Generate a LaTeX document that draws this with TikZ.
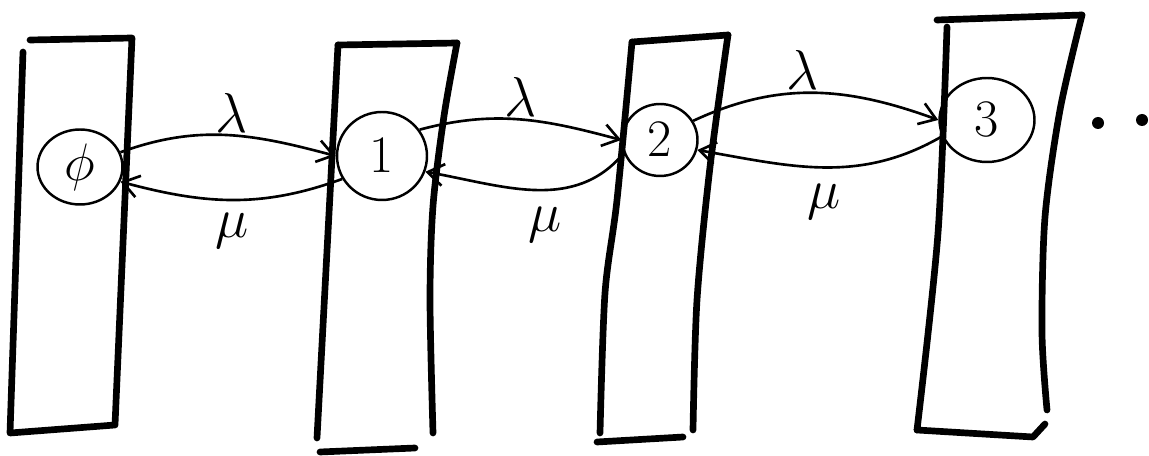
\RequirePackage{fix-cm}
\documentclass[tikz,border=0pt]{standalone}
\usepackage{amsmath,amssymb}
\usepackage{tikz}
\usetikzlibrary{arrows.meta,shapes.geometric}
\definecolor{INK}{HTML}{000000}

\begin{document}
\begin{tikzpicture}[x=0.02cm,y=0.02cm]
\tikzset{bar/.style={line width=3.8pt,INK,line cap=round,line join=round},
 st/.style={ellipse,draw=INK,line width=1.4pt,inner sep=0pt,font=\fontsize{30}{34}\selectfont},
 tr/.style={line width=1.5pt,INK,-{Straight Barb[length=3.2mm,width=4.4mm]}},
 rt/.style={font=\fontsize{32}{36}\selectfont,inner sep=1pt},
 dt/.style={circle,fill=INK,inner sep=0pt,minimum size=0.24cm}}
\useasboundingbox (0,0) rectangle (1149,456);
% bars
\draw[bar] (23,404) -- (10,23) -- (115,31) -- (132,418) -- (30,416);
\draw[bar] (338,411) -- (317,18);
\draw[bar] (338,411) -- (457,413);
\draw[bar] plot[smooth] coordinates {(457,413) (444,340) (433,250) (430,156) (433,23)};
\draw[bar] (320,4) -- (415,8);
\draw[bar] plot[smooth] coordinates {(632,414) (617,256) (605,163) (600,23)};
\draw[bar] (632,414) -- (728,421);
\draw[bar] plot[smooth] coordinates {(728,421) (710,289) (697,156) (693,26)};
\draw[bar] (597,14) -- (683,19);
\draw[bar] (937,436) -- (1082,441);
\draw[bar] plot[smooth] coordinates {(947,429) (938,223) (917,26)};
\draw[bar] (917,26) -- (1033,19) -- (1045,32);
\draw[bar] plot[smooth] coordinates {(1082,441) (1060,346) (1045,239) (1042,123) (1047,46)};
% states
\node[st,minimum width=1.7cm,minimum height=1.5cm] (s0) at (80,289) {$\phi$};
\node[st,minimum width=1.8cm,minimum height=1.76cm] (s1) at (382,300) {$1$};
\node[st,minimum width=1.5cm,minimum height=1.44cm] (s2) at (660,316) {$2$};
\node[st,minimum width=1.9cm,minimum height=1.68cm] (s3) at (987,336) {$3$};
\node[dt] (d1) at (1098,333) {};
\node[dt] (d2) at (1142,336) {};
% rates
\draw[tr] (s0.20) to[out=20,in=165] node[rt,above,pos=.52] (l01) {$\lambda$} (s1.west);
\draw[tr] (s1.210) to[out=200,in=-15] node[rt,below=6pt,pos=.5] (m10) {$\mu$} (s0.-20);
\draw[tr] (s1.35) to[out=15,in=165] node[rt,above,pos=.5] (l12) {$\lambda$} (s2.west);
\draw[tr] (s2.200) to[out=230,in=-10] node[rt,below=8pt,pos=.45] (m21) {$\mu$} (s1.-20);
\draw[tr] (s2.30) to[out=25,in=160] node[rt,above,pos=.45] (l23) {$\lambda$} (s3.west);
\draw[tr] (s3.200) to[out=210,in=-10] node[rt,below=8pt,pos=.5] (m32) {$\mu$} (s2.-15);
\end{tikzpicture}
\end{document}
